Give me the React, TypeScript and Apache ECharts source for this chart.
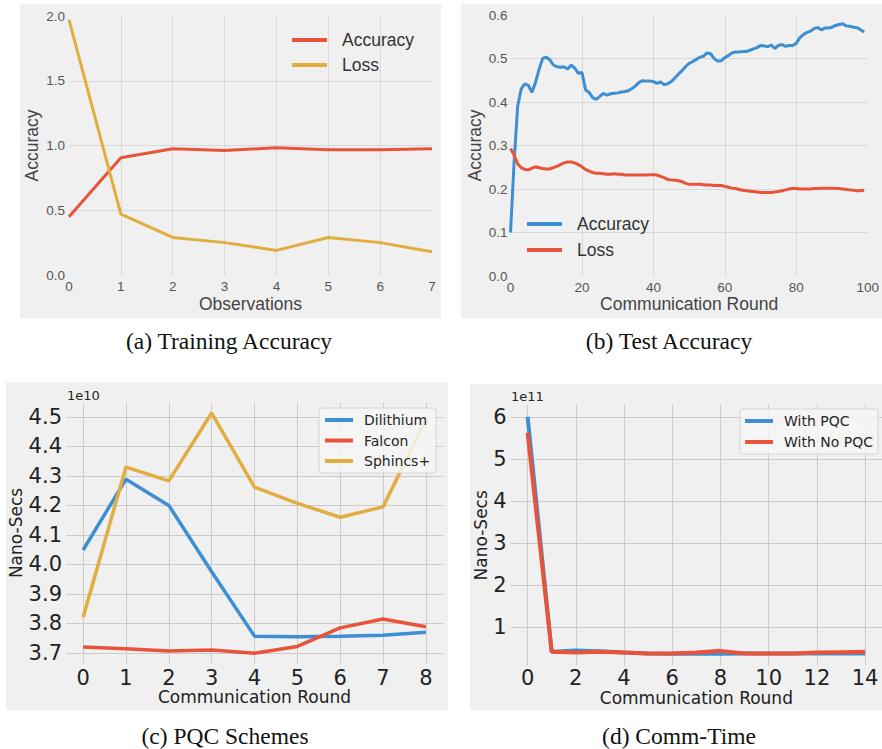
import React, { useEffect, useRef } from "react";
import * as echarts from "echarts";

// ---------- Data ----------
// (a) Training Accuracy
const aObservations = [0, 1, 2, 3, 4, 5, 6, 7];
const aAccuracy = [0.45, 0.905, 0.975, 0.962, 0.982, 0.968, 0.968, 0.975];
const aLoss = [1.97, 0.47, 0.29, 0.25, 0.19, 0.29, 0.25, 0.18];
const aXTicks = [0, 1, 2, 3, 4, 5, 6, 7];
const aYTicks = [0, 0.5, 1.0, 1.5, 2.0];

// (b) Test Accuracy (rounds 0..99)
const bAccuracy = [
  0.1, 0.26, 0.39, 0.43, 0.442, 0.438, 0.422, 0.445, 0.475, 0.5,
  0.503, 0.497, 0.485, 0.481, 0.48, 0.481, 0.476, 0.485, 0.478, 0.466,
  0.468, 0.428, 0.422, 0.41, 0.406, 0.413, 0.42, 0.416, 0.419, 0.42,
  0.421, 0.423, 0.424, 0.426, 0.431, 0.437, 0.445, 0.449, 0.448, 0.448,
  0.447, 0.443, 0.446, 0.44, 0.442, 0.447, 0.455, 0.464, 0.472, 0.481,
  0.489, 0.493, 0.498, 0.503, 0.505, 0.513, 0.511, 0.5, 0.494, 0.495,
  0.502, 0.507, 0.513, 0.515, 0.515, 0.516, 0.516, 0.519, 0.522, 0.525,
  0.53, 0.529, 0.527, 0.531, 0.523, 0.53, 0.532, 0.528, 0.53, 0.53,
  0.535, 0.548, 0.555, 0.56, 0.563, 0.569, 0.571, 0.566, 0.57, 0.57,
  0.572, 0.576, 0.578, 0.58, 0.575, 0.574, 0.572, 0.571, 0.566, 0.561,
];
const bLoss = [
  0.293, 0.278, 0.258, 0.249, 0.245, 0.244, 0.248, 0.251, 0.249, 0.247,
  0.246, 0.246, 0.249, 0.252, 0.256, 0.26, 0.262, 0.262, 0.26, 0.256,
  0.251, 0.245, 0.241, 0.238, 0.236, 0.236, 0.235, 0.234, 0.234, 0.235,
  0.234, 0.234, 0.232, 0.232, 0.232, 0.232, 0.232, 0.232, 0.232, 0.233,
  0.233, 0.232, 0.229, 0.226, 0.222, 0.221, 0.22, 0.219, 0.217, 0.213,
  0.211, 0.211, 0.211, 0.211, 0.21, 0.209, 0.209, 0.208, 0.208, 0.208,
  0.206, 0.204, 0.202, 0.201, 0.199, 0.197, 0.196, 0.195, 0.194, 0.193,
  0.192, 0.192, 0.192, 0.192, 0.193, 0.194, 0.196, 0.198, 0.2, 0.201,
  0.201, 0.2, 0.2, 0.2, 0.2, 0.201, 0.201, 0.202, 0.202, 0.202,
  0.202, 0.201, 0.201, 0.2, 0.199, 0.198, 0.197, 0.196, 0.196, 0.197,
];
const bXTicks = [0, 20, 40, 60, 80, 100];
const bYTicks = [0, 0.1, 0.2, 0.3, 0.4, 0.5, 0.6];

// (c) PQC Schemes (nano-seconds, in units of 1e10)
const cRounds = [0, 1, 2, 3, 4, 5, 6, 7, 8];
const cDilithium = [4.049, 4.289, 4.2, 3.975, 3.757, 3.755, 3.757, 3.76, 3.77];
const cFalcon = [3.72, 3.714, 3.707, 3.71, 3.699, 3.722, 3.785, 3.815, 3.789];
const cSphincs = [3.821, 4.33, 4.283, 4.513, 4.262, 4.207, 4.16, 4.195, 4.49];
const cXTicks = [0, 1, 2, 3, 4, 5, 6, 7, 8];
const cYTicks = [3.7, 3.8, 3.9, 4.0, 4.1, 4.2, 4.3, 4.4, 4.5];

// (d) Comm-Time (nano-seconds, in units of 1e11)
const dRounds = [0, 1, 2, 3, 4, 5, 6, 7, 8, 9, 10, 11, 12, 13, 14];
const dWithPQC = [6.0, 0.42, 0.45, 0.43, 0.4, 0.38, 0.37, 0.38, 0.37, 0.38, 0.38, 0.38, 0.38, 0.38, 0.38];
const dWithNoPQC = [5.62, 0.42, 0.4, 0.42, 0.4, 0.38, 0.38, 0.4, 0.44, 0.38, 0.38, 0.38, 0.4, 0.41, 0.42];
const dXTicks = [0, 2, 4, 6, 8, 10, 12, 14];
const dYTicks = [1, 2, 3, 4, 5, 6];

// ---------- Styles ----------
const RED = "#e8533a";
const YELLOW = "#e2ad3f";
const BLUE = "#3d8ed3";
const BG = "#f0f0f0";
const SANS = "Liberation Sans";
const DEJAVU = "DejaVu Sans";
const SERIF = "Liberation Serif";

function pairs(xs: number[], ys: number[]) {
  return ys.map((v, i) => [xs[i], v]);
}

function interior(ticks: number[], min: number, max: number) {
  return ticks.filter((t) => t > min + 1e-9 && t < max - 1e-9);
}

function makeAxis(o: {
  grid: number;
  min: number;
  max: number;
  ticks: number[];
  fmt: (v: number) => string;
  font: string;
  size: number;
  color: string;
  margin: number;
  grid_color: string;
  name: string;
  nameGap: number;
  nameSize: number;
  nameColor: string;
  vertical?: boolean;
}) {
  return {
    type: "value",
    gridIndex: o.grid,
    min: o.min,
    max: o.max,
    name: o.name,
    nameLocation: "middle",
    nameGap: o.nameGap,
    nameRotate: o.vertical ? 90 : 0,
    nameTextStyle: { fontFamily: o.font, fontSize: o.nameSize, color: o.nameColor },
    axisLine: { show: false },
    axisTick: { show: false, customValues: interior(o.ticks, o.min, o.max) },
    axisLabel: {
      customValues: o.ticks,
      formatter: (v: number) => o.fmt(v),
      fontFamily: o.font,
      fontSize: o.size,
      color: o.color,
      margin: o.margin,
    },
    splitLine: { show: true, lineStyle: { color: o.grid_color, width: 1 } },
  };
}

function line(name: string, xs: number[], ys: number[], idx: number, color: string, width: number) {
  return {
    type: "line",
    name,
    xAxisIndex: idx,
    yAxisIndex: idx,
    data: pairs(xs, ys),
    showSymbol: false,
    symbol: "none",
    lineStyle: { color, width },
    itemStyle: { color },
  };
}

function caption(text: string, x: number, y: number) {
  return {
    type: "text",
    x,
    y,
    style: { text, fontFamily: SERIF, fontSize: 23.5, fill: "#111", align: "center", verticalAlign: "middle" },
  };
}

export default function App() {
  const ref = useRef<HTMLDivElement>(null);

  useEffect(() => {
    document.body.style.margin = "0";
    if (!ref.current) return;
    const chart = echarts.init(ref.current, undefined, { renderer: "svg" });
    const bRounds = bAccuracy.map((_, i) => i);
    const f1 = (v: number) => v.toFixed(1);
    const f0 = (v: number) => String(Math.round(v));

    const option = {
      animation: false,
      textStyle: { fontFamily: SANS },
      grid: [
        { left: 69, top: 16, width: 363, height: 259 },
        { left: 510.5, top: 15, width: 358, height: 261 },
        { left: 66, top: 403, width: 377, height: 260 },
        { left: 510.7, top: 405, width: 374.4, height: 260.6 },
      ],
      xAxis: [
        makeAxis({ grid: 0, min: 0, max: 7, ticks: aXTicks, fmt: f0, font: SANS, size: 13.5, color: "#555", margin: 4, grid_color: "#d9d9d9", name: "Observations", nameGap: 20, nameSize: 17.5, nameColor: "#444" }),
        makeAxis({ grid: 1, min: 0, max: 100, ticks: bXTicks, fmt: f0, font: SANS, size: 13.5, color: "#555", margin: 4, grid_color: "#d9d9d9", name: "Communication Round", nameGap: 19, nameSize: 17.5, nameColor: "#444" }),
        makeAxis({ grid: 2, min: -0.4, max: 8.4, ticks: cXTicks, fmt: f0, font: DEJAVU, size: 21, color: "#222", margin: 4, grid_color: "#cbcbcb", name: "Communication Round", nameGap: 25, nameSize: 17, nameColor: "#222" }),
        makeAxis({ grid: 3, min: -0.7, max: 14.7, ticks: dXTicks, fmt: f0, font: DEJAVU, size: 21, color: "#222", margin: 2, grid_color: "#cbcbcb", name: "Communication Round", nameGap: 24, nameSize: 17, nameColor: "#222" }),
      ],
      yAxis: [
        makeAxis({ grid: 0, min: 0, max: 2, ticks: aYTicks, fmt: f1, font: SANS, size: 13.5, color: "#555", margin: 4, grid_color: "#d9d9d9", name: "Accuracy", nameGap: 28, nameSize: 17.5, nameColor: "#444", vertical: true }),
        makeAxis({ grid: 1, min: 0, max: 0.6, ticks: bYTicks, fmt: f1, font: SANS, size: 13.5, color: "#555", margin: 3, grid_color: "#d9d9d9", name: "Accuracy", nameGap: 27, nameSize: 17.5, nameColor: "#444", vertical: true }),
        makeAxis({ grid: 2, min: 3.666, max: 4.547, ticks: cYTicks, fmt: f1, font: DEJAVU, size: 21, color: "#222", margin: 4, grid_color: "#cbcbcb", name: "Nano-Secs", nameGap: 38, nameSize: 17, nameColor: "#222", vertical: true }),
        makeAxis({ grid: 3, min: 0.09, max: 6.28, ticks: dYTicks, fmt: f0, font: DEJAVU, size: 21, color: "#222", margin: 4, grid_color: "#cbcbcb", name: "Nano-Secs", nameGap: 20, nameSize: 17, nameColor: "#222", vertical: true }),
      ],
      legend: [
        {
          left: 292, top: 30, orient: "vertical", icon: "rect", itemWidth: 35, itemHeight: 4, itemGap: 5, padding: 0,
          textStyle: { fontFamily: SANS, fontSize: 17.5, lineHeight: 20, color: "#333", padding: [0, 0, 0, 10] },
          data: [
            { name: "Accuracy", itemStyle: { color: RED } },
            { name: "Loss", itemStyle: { color: YELLOW } },
          ],
        },
        {
          left: 527, top: 214, orient: "vertical", icon: "rect", itemWidth: 35, itemHeight: 4, itemGap: 6, padding: 0,
          textStyle: { fontFamily: SANS, fontSize: 17.5, lineHeight: 20, color: "#333", padding: [0, 0, 0, 10] },
          data: [
            { name: "Accuracy", itemStyle: { color: BLUE } },
            { name: "Loss", itemStyle: { color: RED } },
          ],
        },
        {
          left: 319, top: 408, orient: "vertical", icon: "rect", itemWidth: 28, itemHeight: 4, itemGap: 4.5,
          padding: [4, 6, 4, 6], backgroundColor: "rgba(246,246,246,0.85)", borderColor: "#d4d4d4", borderWidth: 1, borderRadius: 3,
          textStyle: { fontFamily: DEJAVU, fontSize: 14, lineHeight: 16, color: "#262626", padding: [0, 0, 0, 6] },
          data: [
            { name: "Dilithium", itemStyle: { color: BLUE } },
            { name: "Falcon", itemStyle: { color: RED } },
            { name: "Sphincs+", itemStyle: { color: YELLOW } },
          ],
        },
        {
          left: 740, top: 409, orient: "vertical", icon: "rect", itemWidth: 28, itemHeight: 4, itemGap: 5,
          padding: [4, 5, 4, 5], backgroundColor: "rgba(246,246,246,0.85)", borderColor: "#d4d4d4", borderWidth: 1, borderRadius: 3,
          textStyle: { fontFamily: DEJAVU, fontSize: 14, lineHeight: 16, color: "#262626", padding: [0, 0, 0, 6] },
          data: [
            { name: "With PQC", itemStyle: { color: BLUE } },
            { name: "With No PQC", itemStyle: { color: RED } },
          ],
        },
      ],
      series: [
        line("Accuracy", aObservations, aAccuracy, 0, RED, 3),
        line("Loss", aObservations, aLoss, 0, YELLOW, 3),
        line("Accuracy", bRounds, bAccuracy, 1, BLUE, 3),
        line("Loss", bRounds, bLoss, 1, RED, 3),
        line("Dilithium", cRounds, cDilithium, 2, BLUE, 3.5),
        line("Falcon", cRounds, cFalcon, 2, RED, 3.5),
        line("Sphincs+", cRounds, cSphincs, 2, YELLOW, 3.5),
        line("With PQC", dRounds, dWithPQC, 3, BLUE, 4),
        line("With No PQC", dRounds, dWithNoPQC, 3, RED, 4),
      ],
      graphic: {
        elements: [
          { type: "rect", z: -100, shape: { x: 20, y: 4, width: 421, height: 314 }, style: { fill: BG } },
          { type: "rect", z: -100, shape: { x: 461, y: 4, width: 421, height: 314 }, style: { fill: BG } },
          { type: "rect", z: -100, shape: { x: 6, y: 382, width: 442, height: 328 }, style: { fill: BG } },
          { type: "rect", z: -100, shape: { x: 470, y: 384, width: 412, height: 326 }, style: { fill: BG } },
          { type: "text", x: 67, y: 395, style: { text: "1e10", fontFamily: DEJAVU, fontSize: 13, fill: "#262626", align: "left", verticalAlign: "middle" } },
          { type: "text", x: 511, y: 396, style: { text: "1e11", fontFamily: DEJAVU, fontSize: 13, fill: "#262626", align: "left", verticalAlign: "middle" } },
          caption("(a) Training Accuracy", 229, 341),
          caption("(b) Test Accuracy", 669, 341),
          caption("(c) PQC Schemes", 225, 736),
          caption("(d) Comm-Time", 679, 736),
        ],
      },
    };

    chart.setOption(option as any);
    return () => chart.dispose();
  }, []);

  return <div ref={ref} style={{ width: 882, height: 749, background: "#fff" }} />;
}
